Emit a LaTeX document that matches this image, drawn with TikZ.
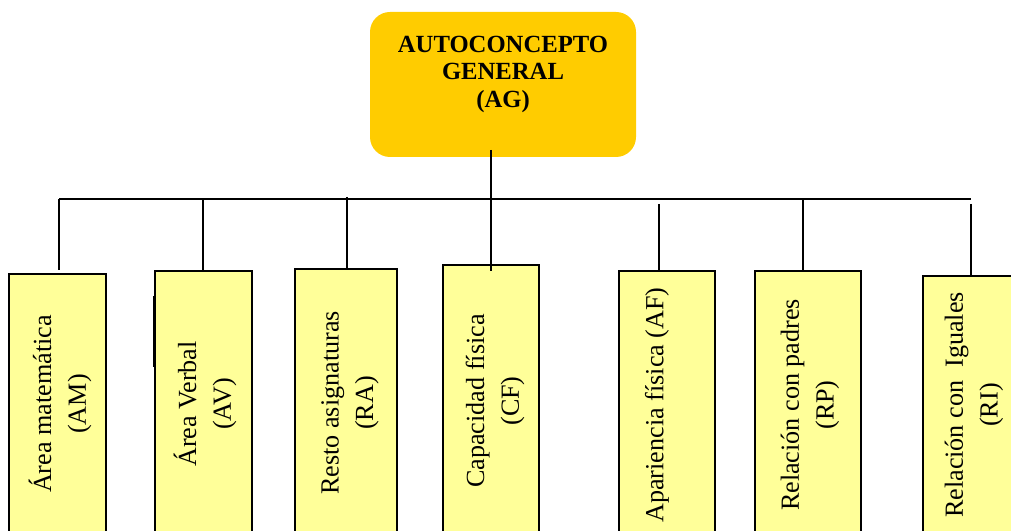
\documentclass[tikz,border=0pt]{standalone}
\usepackage{fontspec}
\setmainfont{Liberation Serif}
\definecolor{agfill}{HTML}{FFCC00}
\definecolor{leaffill}{HTML}{FFFF99}
\tikzset{
  link/.style={line width=1.5pt},
  rootbox/.style={rectangle, rounded corners=15pt, fill=agfill, draw=none, inner sep=0pt},
  roottext/.style={font=\fontsize{18.5}{20.6}\selectfont\bfseries, align=center, inner sep=0pt},
  leaf/.style={rectangle, fill=leaffill, draw=black, line width=1.5pt, inner sep=0pt},
  leaftext/.style={rotate=90, font=\fontsize{19.6}{26}\selectfont, align=center, inner sep=0pt},
}
\begin{document}
\begin{tikzpicture}[x=0.75pt, y=-0.75pt]
  \useasboundingbox (0,0) rectangle (1011,531);
  \clip (0,0) rectangle (1011,531);

  % root concept
  \node[rootbox, minimum width=266*0.75pt, minimum height=145*0.75pt] (ag) at (503,84.5) {};
  \node[roottext] (agt) at (503,74) {AUTOCONCEPTO\\GENERAL\\(AG)};

  % second-level boxes (they run past the lower edge)
  \node[leaf, minimum width=97*0.75pt,  minimum height=260*0.75pt] (am) at (57.5,404) {};
  \node[leaf, minimum width=97*0.75pt,  minimum height=266*0.75pt] (av) at (203.5,404) {};
  \node[leaf, minimum width=102*0.75pt, minimum height=270*0.75pt] (ra) at (346,404) {};
  \node[leaf, minimum width=96*0.75pt,  minimum height=278*0.75pt] (cf) at (491,404) {};
  \node[leaf, minimum width=96*0.75pt,  minimum height=266*0.75pt] (af) at (667,404) {};
  \node[leaf, minimum width=106*0.75pt, minimum height=266*0.75pt] (rp) at (808,404) {};
  \node[leaf, minimum width=97*0.75pt,  minimum height=256*0.75pt] (ri) at (971.5,404) {};

  % rotated labels
  \node[leaftext] (amt) at (60,404) {Área matemática\\(AM)};
  \node[leaftext] (avt) at (205,404) {Área Verbal\\(AV)};
  \node[leaftext] (rat) at (350,403) {Resto asignaturas\\(RA)};
  \node[leaftext] (cft) at (495,401) {Capacidad física\\(CF)};
  \node[leaftext] (aft) at (657,405) {Apariencia física (AF)};
  \node[leaftext] (rpt) at (810,405) {Relación con padres\\(RP)};
  \node[leaftext] (rit) at (974,405) {Relación con\ \ Iguales\\(RI)};

  % thicker stroke on the left edge of the AV box
  \draw[line width=2.6pt] (154.5,296) -- (154.5,367);

  % connector points
  \coordinate (busL) at (59,199.5);
  \coordinate (busR) at (971,199.5);
  \coordinate (agfoot) at (491,150);
  \coordinate (cfend) at (491,271);
  \coordinate (tapAM) at (59,199.5);
  \coordinate (tapAV) at (203,199.5);
  \coordinate (tapRA) at (347,197);
  \coordinate (tapAF) at (659,204);
  \coordinate (tapRP) at (803,199.5);
  \coordinate (tapRI) at (971,204);

  % horizontal bus and drops
  \draw[link] (busL) -- (busR);
  \draw[link] (agfoot) -- (cfend);
  \draw[link, shorten >=3*0.75pt] (tapAM) -- (tapAM |- am.north);
  \draw[link] (tapAV) -- (tapAV |- av.north);
  \draw[link] (tapRA) -- (tapRA |- ra.north);
  \draw[link] (tapAF) -- (tapAF |- af.north);
  \draw[link] (tapRP) -- (tapRP |- rp.north);
  \draw[link] (tapRI) -- (tapRI |- ri.north);
\end{tikzpicture}
\end{document}
